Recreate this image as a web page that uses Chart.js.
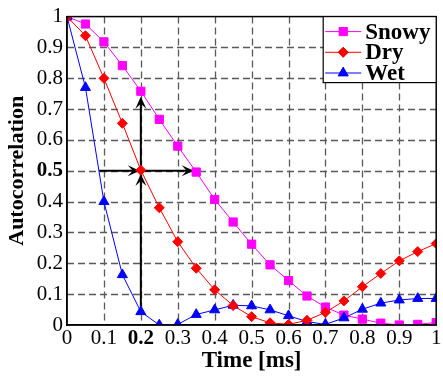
<!DOCTYPE html>
<html>
<head>
<meta charset="utf-8">
<script src="https://cdn.jsdelivr.net/npm/chart.js@4"></script>
<style>
  html, body { margin: 0; padding: 0; background: #fff; }
  #wrap { width: 443px; height: 376px; }
</style>
</head>
<body>
<div id="wrap"><canvas id="autoChart" width="443" height="376"></canvas></div>
<script>
// time lags [ms]
const times = [0, 0.05, 0.1, 0.15, 0.2, 0.25, 0.3, 0.35, 0.4, 0.45, 0.5,
               0.55, 0.6, 0.65, 0.7, 0.75, 0.8, 0.85, 0.9, 0.95, 1];
const snowy = [1, 0.976, 0.918, 0.841, 0.758, 0.667, 0.58, 0.496, 0.407, 0.334, 0.262,
               0.195, 0.144, 0.094, 0.058, 0.032, 0.019, 0.006, 0.0, 0.002, 0.008];
const dry   = [1, 0.938, 0.8, 0.654, 0.502, 0.38, 0.27, 0.184, 0.114, 0.063, 0.027,
               0.007, 0.002, 0.015, 0.041, 0.078, 0.124, 0.167, 0.208, 0.238, 0.264];
const wet   = [1, 0.77, 0.4, 0.163, 0.043, 0.0, 0.002, 0.034, 0.049, 0.064, 0.062,
               0.049, 0.03, 0.011, 0.002, 0.023, 0.051, 0.071, 0.081, 0.086, 0.086];
const xTicks = [0, 0.1, 0.2, 0.3, 0.4, 0.5, 0.6, 0.7, 0.8, 0.9, 1];
const xTickLabels = ['0', '0.1', '0.2', '0.3', '0.4', '0.5', '0.6', '0.7', '0.8', '0.9', '1'];
const yTicks = [0, 0.1, 0.2, 0.3, 0.4, 0.5, 0.6, 0.7, 0.8, 0.9, 1];
const yTickLabels = ['0', '0.1', '0.2', '0.3', '0.4', '0.5', '0.6', '0.7', '0.8', '0.9', '1'];
// annotation: vertical arrow at t=0.2, horizontal arrow at r=0.5
const vArrow = { x: 0.2, from: 0.043, heads: [0.49, 0.74] };
const hArrow = { y: 0.5, from: 0.087, heads: [0.197, 0.343] };

const SERIF = '"Liberation Serif", "Times New Roman", serif';

function toPoints(ys) {
    return times.map((t, i) => ({ x: t, y: ys[i] }));
}

// stealth style arrow head, tip at (x, y), pointing at angle
function arrowHead(ctx, x, y, angle) {
    ctx.save();
    ctx.translate(x, y);
    ctx.rotate(angle);
    ctx.beginPath();
    ctx.moveTo(0, 0);
    ctx.lineTo(-12, -5.5);
    ctx.lineTo(-7, 0);
    ctx.lineTo(-12, 5.5);
    ctx.closePath();
    ctx.fillStyle = '#000';
    ctx.fill();
    ctx.restore();
}

// dashed grid drawn by hand so the dash pattern is clearly visible
const dashedGridPlugin = {
    id: 'dashedGrid',
    beforeDatasetsDraw(chart) {
        const { ctx, chartArea: a, scales: { x, y } } = chart;
        ctx.save();
        ctx.strokeStyle = '#5a5a5a';
        ctx.lineWidth = 1.3;
        ctx.setLineDash([7, 4]);
        xTicks.slice(1, -1).forEach(v => {
            const px = Math.round(x.getPixelForValue(v)) + 0.5;
            ctx.beginPath();
            ctx.moveTo(px, a.top);
            ctx.lineTo(px, a.bottom);
            ctx.stroke();
        });
        yTicks.slice(1, -1).forEach(v => {
            const py = Math.round(y.getPixelForValue(v)) + 0.5;
            ctx.beginPath();
            ctx.moveTo(a.left, py);
            ctx.lineTo(a.right, py);
            ctx.stroke();
        });
        ctx.restore();
    }
};

const arrowPlugin = {
    id: 'arrows',
    beforeDatasetsDraw(chart) {
        const { ctx, scales: { x, y } } = chart;
        ctx.save();
        ctx.strokeStyle = '#000';
        ctx.lineWidth = 2;
        const vx = x.getPixelForValue(vArrow.x);
        ctx.beginPath();
        ctx.moveTo(vx, y.getPixelForValue(vArrow.from));
        ctx.lineTo(vx, y.getPixelForValue(vArrow.heads[1]) + 2);
        ctx.stroke();
        vArrow.heads.forEach(v => arrowHead(ctx, vx, y.getPixelForValue(v), -Math.PI / 2));
        const hy = y.getPixelForValue(hArrow.y);
        ctx.beginPath();
        ctx.moveTo(x.getPixelForValue(hArrow.from), hy);
        ctx.lineTo(x.getPixelForValue(hArrow.heads[1]) - 2, hy);
        ctx.stroke();
        hArrow.heads.forEach(v => arrowHead(ctx, x.getPixelForValue(v), hy, 0));
        ctx.restore();
    }
};

const frameLegendPlugin = {
    id: 'frameLegend',
    afterDraw(chart) {
        const { ctx, chartArea: a } = chart;
        ctx.save();
        // plot frame
        ctx.strokeStyle = '#000';
        ctx.lineWidth = 1.5;
        ctx.strokeRect(a.left, a.top, a.right - a.left, a.bottom - a.top);
        // legend box in the top right corner
        const bw = 113, bh = 66;
        const bx = a.right - bw, by = a.top;
        ctx.fillStyle = '#fff';
        ctx.fillRect(bx, by, bw, bh);
        ctx.lineWidth = 1.2;
        ctx.strokeRect(bx, by, bw, bh);
        chart.data.datasets.forEach((ds, i) => {
            const cy = by + 15 + i * 20.7;
            ctx.strokeStyle = ds.borderColor;
            ctx.lineWidth = 1;
            ctx.beginPath();
            ctx.moveTo(bx + 2, cy);
            ctx.lineTo(bx + 38, cy);
            ctx.stroke();
            Chart.helpers.drawPoint(ctx, {
                pointStyle: ds.pointStyle,
                radius: ds.pointRadius,
                rotation: 0,
                borderWidth: 1
            }, bx + 20, cy);
            ctx.fillStyle = ds.backgroundColor;
            ctx.strokeStyle = ds.borderColor;
            ctx.fill();
            ctx.fillStyle = '#000';
            ctx.font = 'bold 23px ' + SERIF;
            ctx.textBaseline = 'middle';
            ctx.textAlign = 'left';
            ctx.fillText(ds.label, bx + 42, cy + 1);
        });
        ctx.restore();
    }
};

function tickFont(boldValue) {
    return ctx => ({
        family: SERIF,
        size: 21,
        weight: ctx.tick && Math.abs(ctx.tick.value - boldValue) < 1e-9 ? 'bold' : 'normal'
    });
}

const config = {
    type: 'line',
    data: {
        datasets: [
            {
                label: 'Snowy',
                data: toPoints(snowy),
                borderColor: '#ff00ff',
                backgroundColor: '#ff00ff',
                pointStyle: 'rect',
                pointRadius: 5.8,
                borderWidth: 1,
                order: 2
            },
            {
                label: 'Dry',
                data: toPoints(dry),
                borderColor: '#ff0000',
                backgroundColor: '#ff0000',
                pointStyle: 'rectRot',
                pointRadius: 5,
                borderWidth: 1,
                order: 0
            },
            {
                label: 'Wet',
                data: toPoints(wet),
                borderColor: '#0000ff',
                backgroundColor: '#0000ff',
                pointStyle: 'triangle',
                pointRadius: 5.8,
                borderWidth: 1,
                order: 1
            }
        ]
    },
    options: {
        responsive: false,
        animation: false,
        layout: { padding: { left: 0, top: 14, right: 2, bottom: 0 } },
        elements: { line: { tension: 0 }, point: { borderWidth: 1 } },
        scales: {
            x: {
                type: 'linear',
                min: 0,
                max: 1,
                afterFit: s => { s.height = 51; },
                afterBuildTicks: s => { s.ticks = xTicks.map(v => ({ value: v })); },
                ticks: {
                    color: '#000',
                    padding: 1,
                    maxRotation: 0,
                    autoSkip: false,
                    font: tickFont(0.2),
                    callback: (v, i) => xTickLabels[i]
                },
                grid: { display: false, drawTicks: false },
                border: { display: true, color: '#000', width: 1.5 },
                title: {
                    display: true,
                    text: 'Time [ms]',
                    color: '#000',
                    font: { family: SERIF, size: 23, weight: 'bold' },
                    padding: { top: 0, bottom: 1 }
                }
            },
            y: {
                min: 0,
                max: 1,
                afterFit: s => { s.width = 67; },
                afterBuildTicks: s => { s.ticks = yTicks.map(v => ({ value: v })); },
                ticks: {
                    color: '#000',
                    padding: 4,
                    autoSkip: false,
                    font: tickFont(0.5),
                    callback: (v, i) => yTickLabels[i]
                },
                grid: { display: false, drawTicks: false },
                border: { display: true, color: '#000', width: 1.5 },
                title: {
                    display: true,
                    text: 'Autocorrelation',
                    color: '#000',
                    font: { family: SERIF, size: 22, weight: 'bold' },
                    padding: { top: 4, bottom: 0 }
                }
            }
        },
        plugins: {
            legend: { display: false },
            tooltip: { enabled: false }
        }
    },
    plugins: [dashedGridPlugin, arrowPlugin, frameLegendPlugin]
};

new Chart(document.getElementById('autoChart'), config);
</script>
</body>
</html>
